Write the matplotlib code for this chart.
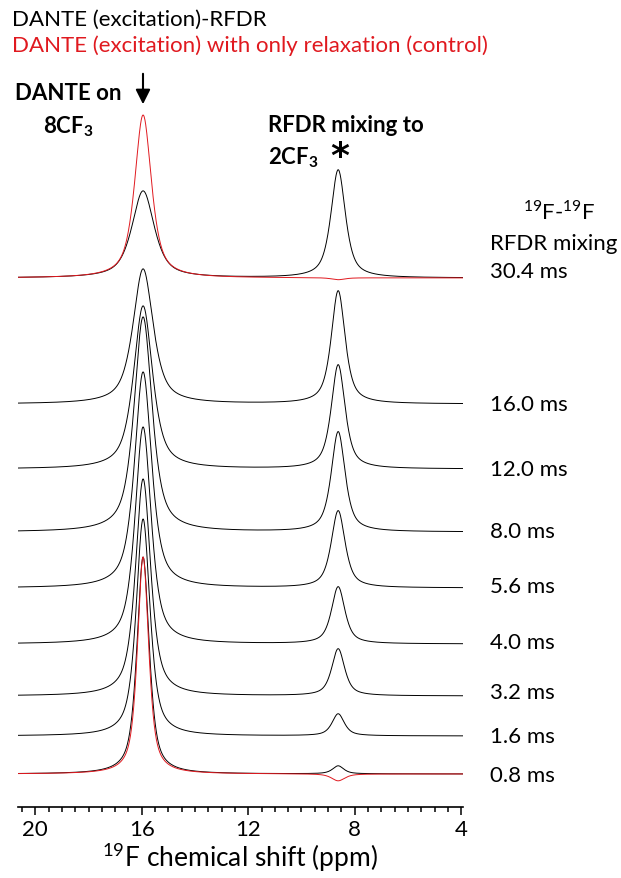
import numpy as np
import matplotlib.pyplot as plt

plt.rcParams['font.family'] = ['Lato', 'DejaVu Sans']
plt.rcParams['mathtext.fontset'] = 'custom'
plt.rcParams['mathtext.rm'] = 'Lato'
plt.rcParams['mathtext.bf'] = 'Lato:bold'

# mixing times, stacked from the bottom trace up
mixing = ['0.8 ms', '1.6 ms', '3.2 ms', '4.0 ms', '5.6 ms', '8.0 ms', '12.0 ms', '16.0 ms', '30.4 ms']
offset = [0, 38, 78, 130, 186, 242, 305, 370, 496]      # vertical stacking offset
h_8cf3 = [217, 217, 217, 217, 216, 215, 163, 135, 87]   # DANTE-excited peak
w_8cf3 = [0.55, 0.62, 0.68, 0.72, 0.76, 0.80, 0.85, 0.90, 1.00]
h_2cf3 = [8, 22, 47, 57, 77, 100, 104, 113, 108]        # RFDR transferred peak
w_2cf3 = [0.50, 0.55, 0.58, 0.60, 0.62, 0.62, 0.62, 0.62, 0.65]

# control (relaxation only), drawn at 0.8 ms and 30.4 ms
ctrl_offset = [0, 496]
ctrl_h_8cf3 = [217, 163]
ctrl_w_8cf3 = [0.50, 0.75]
ctrl_h_2cf3 = [-7, -2]

pos_8cf3 = 15.95
pos_2cf3 = 8.62
eta = 0.7   # lorentzian fraction of the line shape

ppm = np.linspace(20.65, 3.93, 1200)


def line(x, c, w):
    lor = 1.0 / (1.0 + (2 * (x - c) / w) ** 2)
    gau = np.exp(-4 * np.log(2) * ((x - c) / w) ** 2)
    return eta * lor + (1 - eta) * gau


fig = plt.figure(figsize=(6.21, 8.79), dpi=100)
W, H = 621, 879
ax = fig.add_axes([18 / W, 1 - 808 / H, 445 / W, 708 / H])

for i in range(len(mixing)):
    y = offset[i] + h_8cf3[i] * line(ppm, pos_8cf3, w_8cf3[i]) \
        + h_2cf3[i] * line(ppm, pos_2cf3, w_2cf3[i])
    ax.plot(ppm, y, color='black', lw=0.7)

for i in range(len(ctrl_offset)):
    y = ctrl_offset[i] + ctrl_h_8cf3[i] * line(ppm, pos_8cf3, ctrl_w_8cf3[i]) \
        + ctrl_h_2cf3[i] * line(ppm, pos_2cf3, 0.6)
    ax.plot(ppm, y, color='#e0191f', lw=0.7)

ax.set_xlim(20.65, 3.93)
ax.set_ylim(-33, 675)
ax.set_xticks([20, 16, 12, 8, 4])
ax.set_xticks(np.arange(4, 21, 0.5), minor=True)
ax.tick_params(axis='x', which='major', length=6, width=1.1, labelsize=16, pad=3)
ax.tick_params(axis='x', which='minor', length=3.5, width=1.1)
ax.set_yticks([])
for s in ['top', 'left', 'right']:
    ax.spines[s].set_visible(False)
ax.spines['bottom'].set_linewidth(1.2)
ax.set_xlabel(r'$^{19}$F chemical shift (ppm)', fontsize=19, labelpad=0)


def px(x, y):
    return x / W, 1 - y / H


# right-hand mixing labels
label_y = [776, 737, 693, 643, 587, 532, 470, 405, 272]
for lab, ly in zip(mixing, label_y):
    fig.text(*px(490, ly), lab, fontsize=16, va='center', ha='left')
fig.text(*px(523, 212), r'$^{19}$F-$^{19}$F', fontsize=16, va='center', ha='left')
fig.text(*px(490, 244), 'RFDR mixing', fontsize=16, va='center', ha='left')

# titles
fig.text(*px(12, 20), 'DANTE (excitation)-RFDR', fontsize=16, va='center', ha='left')
fig.text(*px(12, 46), 'DANTE (excitation) with only relaxation (control)',
         fontsize=16, va='center', ha='left', color='#e0191f')

# annotations
fig.text(*px(15, 94), 'DANTE on', fontsize=16, fontweight='bold', va='center', ha='left')
fig.text(*px(43, 127), r'8CF$_\mathbf{3}$', fontsize=16, fontweight='bold', va='center', ha='left')
fig.text(*px(268, 125), 'RFDR mixing to', fontsize=16, fontweight='bold', va='center', ha='left')
fig.text(*px(268, 158), r'2CF$_\mathbf{3}$', fontsize=16, fontweight='bold', va='center', ha='left')
fig.text(*px(340, 157), '*', fontsize=26, fontweight='bold', va='center', ha='center',
         family='DejaVu Sans')
fig.add_artist(plt.Annotation('', xy=px(143, 108), xytext=px(143, 72),
                              xycoords='figure fraction', textcoords='figure fraction',
                              arrowprops=dict(arrowstyle='-|>', color='black', lw=1.5,
                                              mutation_scale=22)))

fig.savefig('out.png', dpi=100)
